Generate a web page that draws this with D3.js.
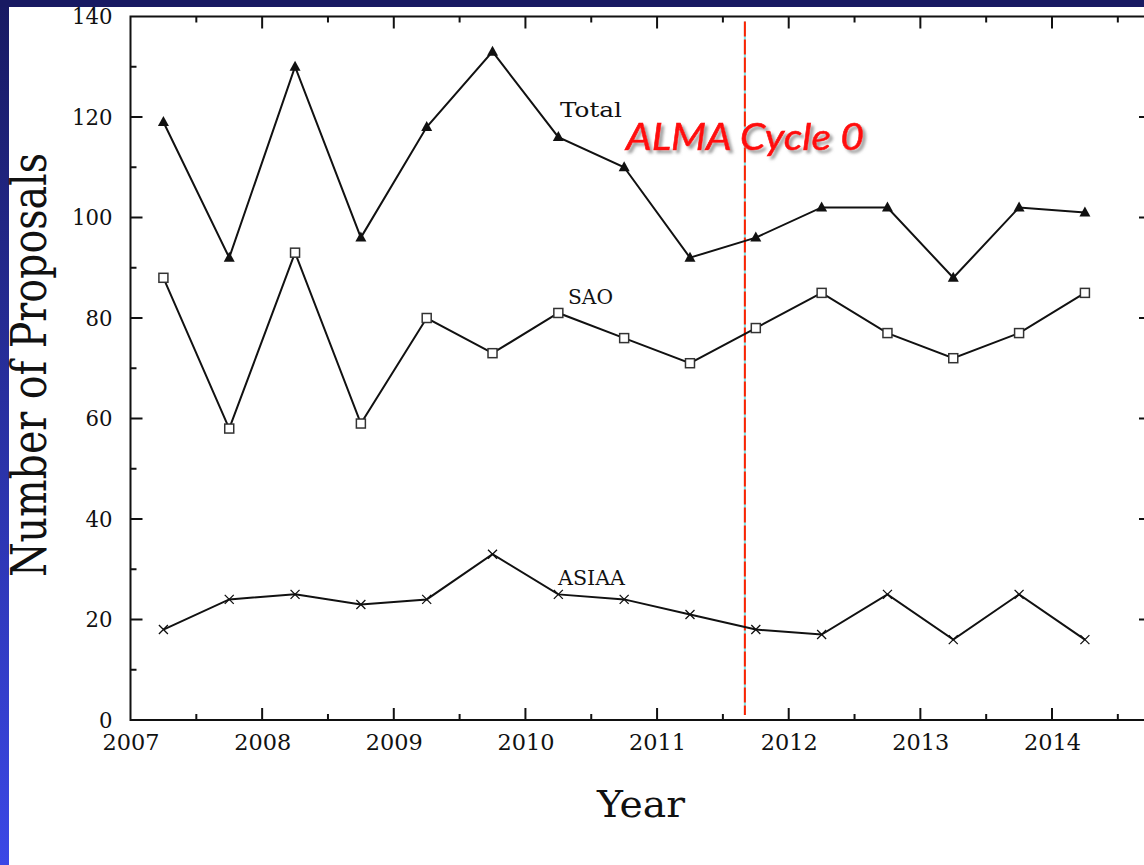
<!DOCTYPE html>
<html>
<head>
<meta charset="utf-8">
<script src="https://cdn.jsdelivr.net/npm/d3@7"></script>
<style>
  html, body { margin: 0; padding: 0; background: #fff; overflow: hidden; }
</style>
</head>
<body>
<div id="chart"></div>
<script>
// Data
const years = [2007.25, 2007.75, 2008.25, 2008.75, 2009.25, 2009.75, 2010.25, 2010.75,
               2011.25, 2011.75, 2012.25, 2012.75, 2013.25, 2013.75, 2014.25];
const totalCounts = [119, 92, 130, 96, 118, 133, 116, 110, 92, 96, 102, 102, 88, 102, 101];
const saoCounts = [88, 58, 93, 59, 80, 73, 81, 76, 71, 78, 85, 77, 72, 77, 85];
const asiaaCounts = [18, 24, 25, 23, 24, 33, 25, 24, 21, 18, 17, 25, 16, 25, 16];
const xTicks = [2007, 2008, 2009, 2010, 2011, 2012, 2013, 2014];
const yTicks = [0, 20, 40, 60, 80, 100, 120, 140];
const cycle0Year = 2011.667;

const width = 1144;
const height = 865;
const margin = { top: 16.5, left: 130.5, bottom: 720 };
const plotRight = 1151;

const svg = d3.select('#chart').append('svg')
    .attr('width', width)
    .attr('height', height);

// Blue slide frame on top and left
const defs = svg.append('defs');
const grad = defs.append('linearGradient')
    .attr('id', 'sideGrad')
    .attr('x1', 0).attr('y1', 0).attr('x2', 0).attr('y2', 1);
grad.append('stop').attr('offset', '0%').attr('stop-color', '#181a62');
grad.append('stop').attr('offset', '100%').attr('stop-color', '#3b48e6');

const shadow = defs.append('filter').attr('id', 'shadow')
    .attr('x', '-10%').attr('y', '-20%').attr('width', '130%').attr('height', '150%');
shadow.append('feDropShadow')
    .attr('dx', 3).attr('dy', 3).attr('stdDeviation', 1.5)
    .attr('flood-color', '#888').attr('flood-opacity', 0.8);

svg.append('rect').attr('x', 0).attr('y', 0).attr('width', 9).attr('height', height)
    .attr('fill', 'url(#sideGrad)');
svg.append('rect').attr('x', 0).attr('y', 0).attr('width', width).attr('height', 7)
    .attr('fill', '#181a62');

// Scales
const x = d3.scaleLinear()
    .domain([2007, 2014])
    .range([margin.left, 1052]);
const y = d3.scaleLinear()
    .domain([0, 140])
    .range([margin.bottom, margin.top]);

const font = "'DejaVu Serif', 'Liberation Serif', serif";
const halfYears = d3.range(2007.5, 2015, 1);
const yMinor = d3.range(10, 150, 20);

const frame = svg.append('g');

// Frame box
frame.append('rect')
    .attr('x', margin.left).attr('y', margin.top)
    .attr('width', plotRight - margin.left)
    .attr('height', margin.bottom - margin.top)
    .attr('fill', 'none').attr('stroke', '#111').attr('stroke-width', 2);

// Bottom axis
const xAxis = d3.axisBottom(x).tickValues(xTicks).tickSize(0).tickPadding(14)
    .tickFormat(d3.format('d'));
frame.append('g')
    .attr('transform', `translate(0, ${margin.bottom})`)
    .call(xAxis)
    .call(g => g.select('.domain').remove())
    .call(g => g.selectAll('text')
        .attr('font-family', font).attr('font-size', 23).attr('fill', '#111')
        .attr('textLength', 57).attr('lengthAdjust', 'spacingAndGlyphs'));

// Left axis
const yAxis = d3.axisLeft(y).tickValues(yTicks).tickSize(0).tickPadding(18);
frame.append('g')
    .attr('transform', `translate(${margin.left}, 0)`)
    .call(yAxis)
    .call(g => g.select('.domain').remove())
    .call(g => g.selectAll('text')
        .attr('font-family', font).attr('font-size', 23).attr('fill', '#111')
        .attr('textLength', d => String(d).length * 13.5).attr('lengthAdjust', 'spacingAndGlyphs'));

// Inward ticks on all four sides
const tickG = frame.append('g').attr('stroke', '#111').attr('stroke-width', 2);
const xMajor = xTicks.slice(1);
tickG.selectAll('.bt').data(xMajor.concat(halfYears)).join('line')
    .attr('x1', d => x(d)).attr('x2', d => x(d))
    .attr('y1', margin.bottom)
    .attr('y2', d => margin.bottom - (Number.isInteger(d) ? 12 : 6));
tickG.selectAll('.tt').data(xMajor.concat(halfYears)).join('line')
    .attr('x1', d => x(d)).attr('x2', d => x(d))
    .attr('y1', margin.top)
    .attr('y2', d => margin.top + (Number.isInteger(d) ? 12 : 6));
tickG.selectAll('.lt').data(yTicks.slice(1, -1).concat(yMinor)).join('line')
    .attr('y1', d => y(d)).attr('y2', d => y(d))
    .attr('x1', margin.left)
    .attr('x2', d => margin.left + (d % 20 === 0 ? 12 : 6));
tickG.selectAll('.rt').data(yTicks.slice(1, -1).concat(yMinor)).join('line')
    .attr('y1', d => y(d)).attr('y2', d => y(d))
    .attr('x1', plotRight)
    .attr('x2', d => plotRight - (d % 20 === 0 ? 12 : 6));

// Axis titles
svg.append('text')
    .attr('x', 641).attr('y', 817)
    .attr('text-anchor', 'middle')
    .attr('font-family', font).attr('font-size', 37)
    .attr('fill', '#111')
    .attr('textLength', 88).attr('lengthAdjust', 'spacingAndGlyphs')
    .text('Year');
svg.append('text')
    .attr('transform', 'translate(46, 365) rotate(-90)')
    .attr('text-anchor', 'middle')
    .attr('font-family', font).attr('font-size', 48)
    .attr('fill', '#111')
    .attr('textLength', 424).attr('lengthAdjust', 'spacingAndGlyphs')
    .text('Number of Proposals');

// ALMA Cycle 0 marker line (red dashes on cyan)
svg.append('line')
    .attr('x1', x(cycle0Year)).attr('x2', x(cycle0Year))
    .attr('y1', y(139)).attr('y2', y(1))
    .attr('stroke', '#7fe3e6').attr('stroke-width', 2);
svg.append('line')
    .attr('x1', x(cycle0Year)).attr('x2', x(cycle0Year))
    .attr('y1', y(139)).attr('y2', y(1))
    .attr('stroke', '#ff2200').attr('stroke-width', 2)
    .attr('stroke-dasharray', '15,3');

// Series lines
const line = d3.line().x((d, i) => x(years[i])).y(d => y(d));
const series = [totalCounts, saoCounts, asiaaCounts];
svg.append('g').selectAll('path').data(series).join('path')
    .attr('d', line)
    .attr('fill', 'none')
    .attr('stroke', '#111')
    .attr('stroke-width', 2);

// Markers
svg.append('g').selectAll('path').data(totalCounts).join('path')
    .attr('transform', (d, i) => `translate(${x(years[i])}, ${y(d)})`)
    .attr('d', 'M0,-6L5.5,4L-5.5,4Z')
    .attr('fill', '#111');
svg.append('g').selectAll('rect').data(saoCounts).join('rect')
    .attr('x', (d, i) => x(years[i]) - 4.5)
    .attr('y', d => y(d) - 4.5)
    .attr('width', 9).attr('height', 9)
    .attr('fill', '#fff')
    .attr('stroke', '#333').attr('stroke-width', 1.5);
svg.append('g').selectAll('path').data(asiaaCounts).join('path')
    .attr('transform', (d, i) => `translate(${x(years[i])}, ${y(d)})`)
    .attr('d', 'M-4.5,-4.5L4.5,4.5M-4.5,4.5L4.5,-4.5')
    .attr('stroke', '#111').attr('stroke-width', 1.3);

// Series labels
const labels = [
    { text: 'Total', left: 560, base: 117, len: 62 },
    { text: 'SAO', left: 568, base: 304, len: 45 },
    { text: 'ASIAA', left: 558, base: 585, len: 67 }
];
svg.append('g').selectAll('text').data(labels).join('text')
    .attr('x', d => d.left).attr('y', d => d.base)
    .attr('font-family', font).attr('font-size', 21)
    .attr('fill', '#111')
    .attr('textLength', d => d.len).attr('lengthAdjust', 'spacingAndGlyphs')
    .text(d => d.text);

// Cycle 0 annotation
svg.append('text')
    .attr('x', 626).attr('y', 150)
    .attr('font-family', "'Comic Sans MS', 'Lato', 'Open Sans', sans-serif")
    .attr('font-style', 'italic')
    .attr('font-size', 37)
    .attr('fill', '#ff1010')
    .attr('stroke', '#ff1010').attr('stroke-width', 0.6)
    .attr('textLength', 238)
    .attr('lengthAdjust', 'spacingAndGlyphs')
    .attr('filter', 'url(#shadow)')
    .text('ALMA Cycle 0');
</script>
</body>
</html>
